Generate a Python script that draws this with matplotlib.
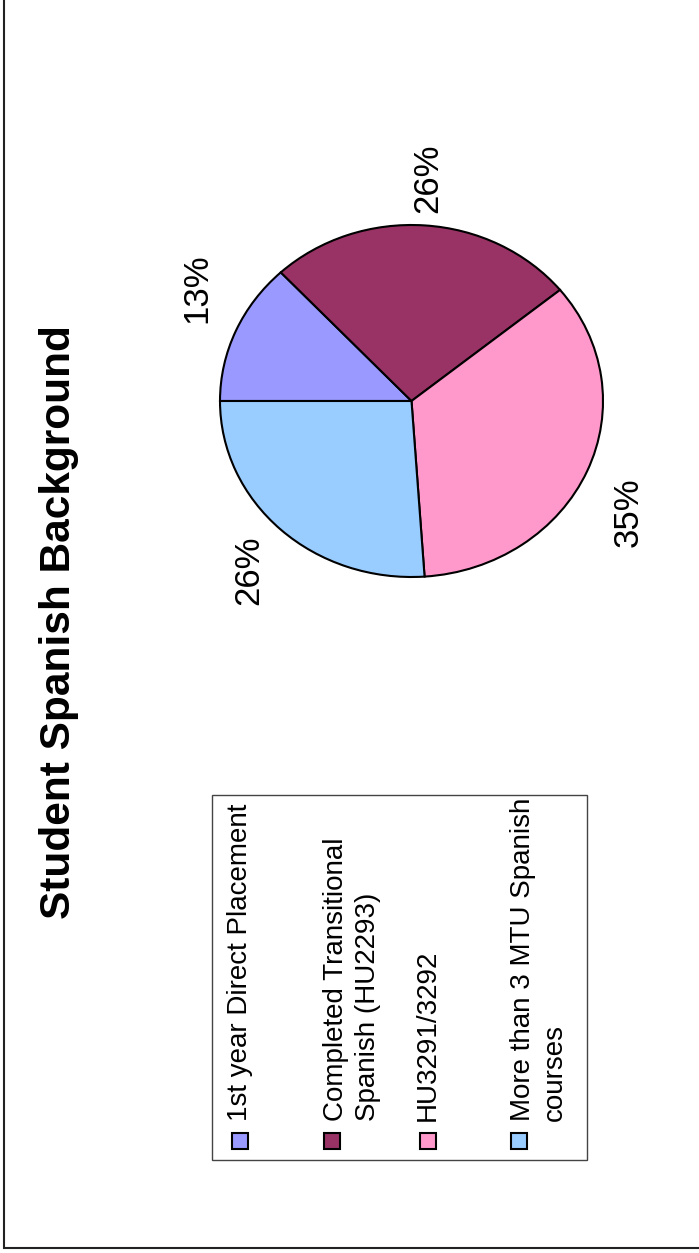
import matplotlib
matplotlib.use('Agg')
import matplotlib.pyplot as plt
from matplotlib.patches import Rectangle

plt.rcParams['font.family'] = ['Liberation Sans', 'DejaVu Sans']

# Data (student counts read from the percentages 13/26/35/26)
categories = ['1st year Direct Placement',
              'Completed Transitional\nSpanish (HU2293)',
              'HU3291/3292',
              'More than 3 MTU Spanish\ncourses']
counts = [3, 6, 8, 6]
colors = ['#9999FF', '#993366', '#FF99CC', '#99CCFF']
title = 'Student Spanish Background'

W, H = 699, 1253
fig = plt.figure(figsize=(W / 100, H / 100), dpi=100)

# overlay axes in pixel coordinates for title, legend, labels and border
ov = fig.add_axes([0, 0, 1, 1])
ov.set_xlim(0, W)
ov.set_ylim(H, 0)
ov.axis('off')

# outer border
ov.add_patch(Rectangle((3.5, -5), W + 10, 1252.5, fill=False,
                       edgecolor='#222222', lw=1.5))

# pie (slightly elliptical like the original)
px0, px1, py0, py1 = 220, 603, 225, 577
pax = fig.add_axes([px0 / W, 1 - py1 / H, (px1 - px0) / W, (py1 - py0) / H])
wedges, _ = pax.pie(counts, colors=colors, startangle=180, counterclock=False,
                    wedgeprops=dict(edgecolor='black', linewidth=1.5))
pax.set_aspect('auto')
pax.set_xlim(-1, 1)
pax.set_ylim(-1, 1)
pax.axis('off')

# percentage labels outside the slices
total = sum(counts)
label_pos = [(197, 288), (428, 178), (628, 512), (249, 570)]
for c, (lx, ly) in zip(counts, label_pos):
    ov.text(lx, ly, f"{round(100 * c / total):.0f}%", rotation=90, fontsize=25,
            ha='center', va='center')

# title
ov.text(59, 622, title, rotation=90, fontsize=30.5, fontweight='bold',
        ha='center', va='center')

# legend box
ov.add_patch(Rectangle((212, 795), 375, 365, fill=False, edgecolor='#444444', lw=1))
marker_x = [240, 332, 428, 519]
text_x = [240, 352, 428, 539]
for cat, col, mx, tx in zip(categories, colors, marker_x, text_x):
    ov.add_patch(Rectangle((mx - 8, 1133), 16, 16, facecolor=col,
                           edgecolor='black', lw=1.5))
    ov.text(tx, 1121, cat, rotation=90, fontsize=20, ha='center', va='bottom',
            multialignment='left', linespacing=1.3)

fig.savefig('out.png', dpi=100)
